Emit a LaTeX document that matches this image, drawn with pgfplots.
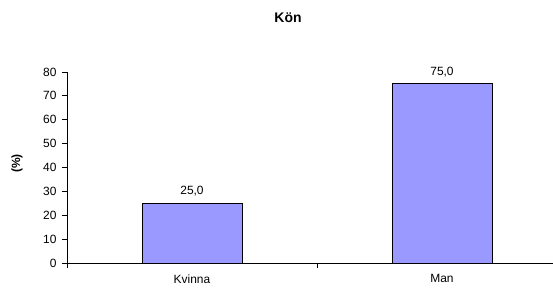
\documentclass[border=0pt]{standalone}
\usepackage{pgfplots}
\pgfplotsset{compat=1.18}
\usepackage{fontspec}
\setmainfont{Liberation Sans}
\definecolor{barblue}{HTML}{9999FF}
\begin{document}
\begin{tikzpicture}
\path[use as bounding box] (0,0) rectangle (553bp,293bp);
\begin{axis}[
  at={(67bp,30bp)}, anchor=south west,
  scale only axis, width=486bp, height=191bp,
  xmin=-0.5, xmax=1.444, ymin=0, ymax=80,
  axis x line=bottom, axis y line=left,
  axis line style={-, line width=1pt, black},
  xtick={0,1}, xticklabels={Kvinna,Man},
  minor xtick={-0.5,0.5,1.5},
  every major x tick/.append style={draw=none},
  minor tick length=5bp, major tick length=5bp,
  tick align=outside,
  tick style={black, line width=0.8pt},
  ytick={0,10,...,80},
  /pgf/number format/assume math mode=true,
  ticklabel style={font=\fontsize{12}{14}\selectfont},
  yticklabel style={xshift=-2bp},
  xticklabel style={yshift=-3bp},
  ylabel={\textbf{(\%)}},
  ylabel style={font=\fontsize{12}{14}\selectfont, at={(axis description cs:-0.103,0.52)}, anchor=center},
  ybar, bar width=100bp,
  nodes near coords={\pgfmathprintnumber[fixed,fixed zerofill,precision=1,use comma]{\pgfplotspointmeta}},
  every node near coord/.append style={font=\fontsize{12}{14}\selectfont, black, yshift=3bp},
]
\addplot[fill=barblue, draw=black, line width=1pt] coordinates {(0,25.0) (1,75.0)};
\end{axis}
\node[font=\bfseries\fontsize{14}{16}\selectfont] at (288bp,275bp) {Kön};
\end{tikzpicture}
\end{document}
